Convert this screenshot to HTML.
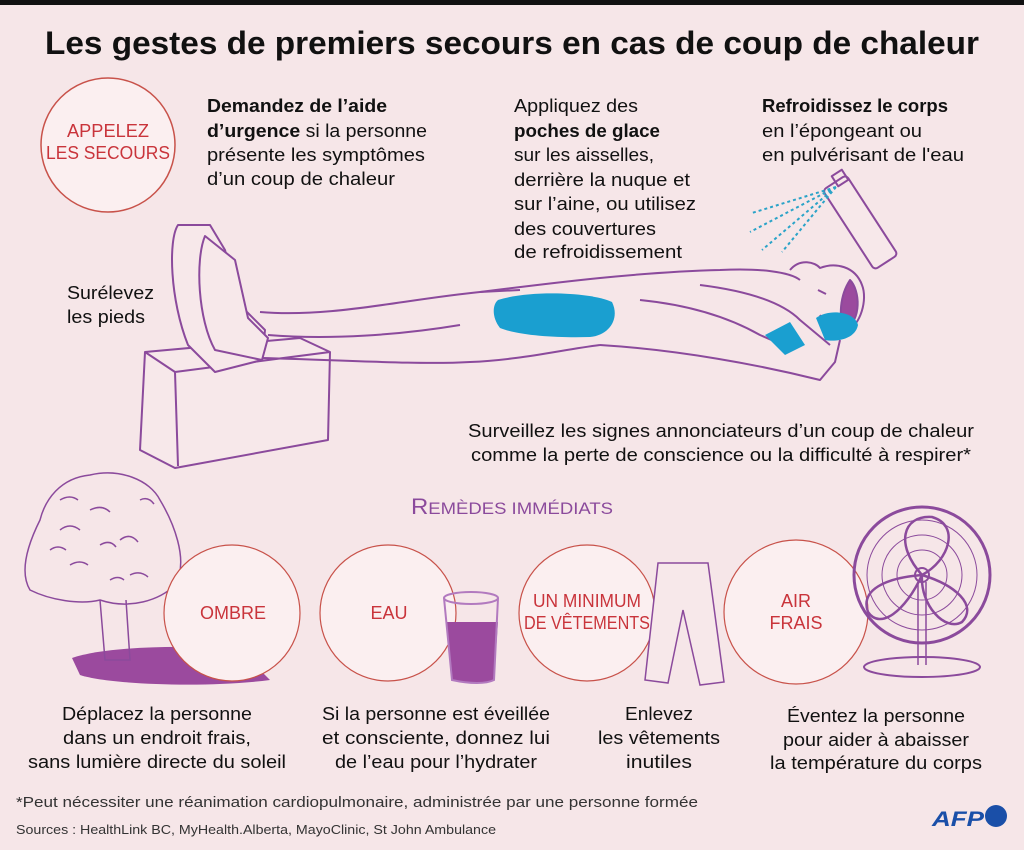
<!DOCTYPE html>
<html><head><meta charset="utf-8"><style>
html,body{margin:0;padding:0;background:#f6e6e8}
svg{display:block}
text{font-family:"Liberation Sans",sans-serif}
.d{font-size:18px;fill:#111}
.b{font-weight:bold}
.r{fill:#c9343b;font-size:18px}
</style></head><body>
<svg width="1024" height="850" viewBox="0 0 1024 850">
<rect width="1024" height="850" fill="#f6e6e8"/>
<rect width="1024" height="5" fill="#111"/>
<text x="512" y="54" text-anchor="middle" font-size="32" font-weight="bold" fill="#111" textLength="934" lengthAdjust="spacingAndGlyphs">Les gestes de premiers secours en cas de coup de chaleur</text>

<circle cx="108" cy="145" r="67" fill="#fbeff0" stroke="#c8524a" stroke-width="1.5"/>
<text x="108" y="137" text-anchor="middle" class="r" textLength="82" lengthAdjust="spacingAndGlyphs">APPELEZ</text>
<text x="108" y="159" text-anchor="middle" class="r" textLength="124" lengthAdjust="spacingAndGlyphs">LES SECOURS</text>

<g class="d">
<text x="207" y="112" class="b" textLength="180" lengthAdjust="spacingAndGlyphs">Demandez de l’aide</text>
<text x="207" y="137" textLength="220" lengthAdjust="spacingAndGlyphs"><tspan font-weight="bold">d’urgence</tspan> si la personne</text>
<text x="207" y="161" textLength="218" lengthAdjust="spacingAndGlyphs">présente les symptômes</text>
<text x="207" y="185" textLength="188" lengthAdjust="spacingAndGlyphs">d’un coup de chaleur</text>

<text x="514" y="112" textLength="124" lengthAdjust="spacingAndGlyphs">Appliquez des</text>
<text x="514" y="137" class="b" textLength="146" lengthAdjust="spacingAndGlyphs">poches de glace</text>
<text x="514" y="161" textLength="140" lengthAdjust="spacingAndGlyphs">sur les aisselles,</text>
<text x="514" y="186" textLength="176" lengthAdjust="spacingAndGlyphs">derrière la nuque et</text>
<text x="514" y="210" textLength="182" lengthAdjust="spacingAndGlyphs">sur l’aine, ou utilisez</text>
<text x="514" y="235" textLength="142" lengthAdjust="spacingAndGlyphs">des couvertures</text>
<text x="514" y="258" textLength="168" lengthAdjust="spacingAndGlyphs">de refroidissement</text>

<text x="762" y="112" class="b" textLength="186" lengthAdjust="spacingAndGlyphs">Refroidissez le corps</text>
<text x="762" y="137" textLength="160" lengthAdjust="spacingAndGlyphs">en l’épongeant ou</text>
<text x="762" y="161" textLength="202" lengthAdjust="spacingAndGlyphs">en pulvérisant de l'eau</text>

<text x="67" y="299" textLength="87" lengthAdjust="spacingAndGlyphs">Surélevez</text>
<text x="67" y="323" textLength="78" lengthAdjust="spacingAndGlyphs">les pieds</text>

<text x="721" y="437" text-anchor="middle" textLength="506" lengthAdjust="spacingAndGlyphs">Surveillez les signes annonciateurs d’un coup de chaleur</text>
<text x="721" y="461" text-anchor="middle" textLength="500" lengthAdjust="spacingAndGlyphs">comme la perte de conscience ou la difficulté à respirer*</text>
</g>

<!-- person -->
<g fill="none" stroke="#8b4a9c" stroke-width="2" stroke-linejoin="round">
<path d="M145 352 L300 338 L330 352 L328 440 L175 468 L140 450 Z" fill="#f7e8ea"/>
<path d="M145 352 L175 372 L178 466 M175 372 L330 352"/>
<path d="M178 225 C168 240 170 300 188 345 L215 372 L262 360 L265 330 L240 305 L225 250 L210 225 Z" fill="#f7e8ea"/>
<path d="M205 236 C195 260 198 320 215 350 L262 360 L268 338 L248 318 L235 260 Z" fill="#f7e8ea"/>
<path d="M260 312 C330 318 400 300 480 292 L520 290 M262 358 C340 360 420 365 470 362 C520 360 560 350 600 345"/>
<path d="M268 335 C330 340 400 335 460 325"/>
<path d="M480 292 C560 282 640 272 720 270 C760 268 790 272 800 280 M600 345 C680 350 760 365 820 380 L835 362 L840 340"/>
<path d="M700 285 C740 290 780 300 800 320 L830 345 M640 300 C690 305 730 318 760 335 L790 348"/>
<path d="M790 270 C800 258 815 262 820 268 C835 262 855 266 862 285 C868 300 860 325 848 330 C835 332 825 325 820 315"/>
<path d="M818 290 l8 4"/>
<path d="M850 280 C860 290 862 320 845 330 C838 318 840 295 850 280 Z" fill="#9b4a9e"/>
<rect x="846" y="175" width="28" height="95" rx="4" transform="rotate(-33 860 222)" fill="#f7e8ea"/>
<rect x="834" y="172" width="12" height="12" transform="rotate(-33 840 178)"/>
</g>
<path d="M498 300 C530 290 590 292 612 302 C620 318 610 335 590 337 C560 338 520 336 500 328 C492 318 492 305 498 300 Z" fill="#1a9fd0"/>
<path d="M765 335 L790 322 L805 345 L785 355 Z" fill="#1a9fd0"/>
<path d="M816 318 C830 308 855 312 858 325 C855 340 835 342 825 340 Z" fill="#1a9fd0"/>
<g stroke="#2aa3c8" stroke-width="2" stroke-dasharray="3 3">
<path d="M836 187 L752 213 M836 187 L750 232 M836 187 L762 250 M836 187 L782 252"/>
</g>

<text x="512" y="514" text-anchor="middle" fill="#8b4a9c" font-size="22" textLength="202" lengthAdjust="spacingAndGlyphs">R<tspan font-size="17">EMÈDES IMMÉDIATS</tspan></text>

<!-- tree -->
<path d="M72 658 C110 645 200 645 240 650 L270 680 C210 688 110 685 80 675 Z" fill="#9b4a9e"/>
<g fill="none" stroke="#8b4a9c" stroke-width="1.5">
<path d="M40 520 C30 540 18 570 30 590 C50 600 80 605 100 600 C130 610 160 600 175 585 C190 560 172 520 160 500 C150 480 120 468 90 475 C60 478 45 500 40 520 Z"/>
<path d="M100 600 L105 660 L130 660 L126 600"/>
<path d="M60 530 q10 -8 20 0 M90 510 q12 -6 20 2 M120 540 q10 -8 18 2 M70 565 q10 -6 18 0 M130 575 q10 -5 18 2 M50 550 q8 -6 16 0 M100 545 q10 -6 16 2 M140 500 q8 -4 14 4 M60 500 q10 -6 18 0 M110 580 q8 -5 14 0"/>
</g>
<g fill="#fbeff0" stroke="#c8524a" stroke-width="1.2">
<circle cx="232" cy="613" r="68"/>
<circle cx="388" cy="613" r="68"/>
<circle cx="587" cy="613" r="68"/>
<circle cx="796" cy="612" r="72"/>
</g>
<text x="233" y="619" text-anchor="middle" class="r">OMBRE</text>
<text x="389" y="619" text-anchor="middle" class="r">EAU</text>
<text x="587" y="607" text-anchor="middle" class="r" textLength="108" lengthAdjust="spacingAndGlyphs">UN MINIMUM</text>
<text x="587" y="629" text-anchor="middle" class="r" textLength="126" lengthAdjust="spacingAndGlyphs">DE VÊTEMENTS</text>
<text x="796" y="607" text-anchor="middle" class="r">AIR</text>
<text x="796" y="629" text-anchor="middle" class="r">FRAIS</text>

<!-- glass -->
<path d="M446 622 L452 680 C470 684 486 684 494 680 L498 622 Z" fill="#9b4a9e"/>
<path d="M444 598 L452 680 C470 684 486 684 494 680 L498 598" fill="none" stroke="#b27abf" stroke-width="2"/>
<ellipse cx="471" cy="598" rx="27" ry="6" fill="none" stroke="#b27abf" stroke-width="2"/>
<!-- pants -->
<path d="M658 563 L708 563 L724 682 L700 685 L683 610 L668 683 L645 680 Z" fill="#f7e8ea" stroke="#8b4a9c" stroke-width="1.5"/>
<!-- fan -->
<g fill="none" stroke="#8b4a9c">
<circle cx="922" cy="575" r="68" stroke-width="3"/>
<circle cx="922" cy="575" r="55" stroke-width="1"/>
<circle cx="922" cy="575" r="40" stroke-width="1"/>
<circle cx="922" cy="575" r="25" stroke-width="1"/>
<path d="M922 575 C895 545 902 515 932 517 C960 525 950 560 922 575 Z M922 575 C885 578 860 590 868 612 C880 630 905 612 922 575 Z M922 575 C955 585 978 605 962 622 C945 632 920 605 922 575 Z" stroke-width="2.5"/>
<circle cx="922" cy="575" r="7" stroke-width="2"/>
<path d="M918 582 L918 665 M926 582 L926 665" stroke-width="1.5"/>
<ellipse cx="922" cy="667" rx="58" ry="10" stroke-width="2"/>
</g>

<g class="d" text-anchor="middle">
<text x="157" y="720" textLength="190" lengthAdjust="spacingAndGlyphs">Déplacez la personne</text>
<text x="157" y="744" textLength="188" lengthAdjust="spacingAndGlyphs">dans un endroit frais,</text>
<text x="157" y="768" textLength="258" lengthAdjust="spacingAndGlyphs">sans lumière directe du soleil</text>
<text x="436" y="720" textLength="228" lengthAdjust="spacingAndGlyphs">Si la personne est éveillée</text>
<text x="436" y="744" textLength="228" lengthAdjust="spacingAndGlyphs">et consciente, donnez lui</text>
<text x="436" y="768" textLength="202" lengthAdjust="spacingAndGlyphs">de l’eau pour l’hydrater</text>
<text x="659" y="720" textLength="68" lengthAdjust="spacingAndGlyphs">Enlevez</text>
<text x="659" y="744" textLength="122" lengthAdjust="spacingAndGlyphs">les vêtements</text>
<text x="659" y="768" textLength="66" lengthAdjust="spacingAndGlyphs">inutiles</text>
<text x="876" y="722" textLength="178" lengthAdjust="spacingAndGlyphs">Éventez la personne</text>
<text x="876" y="746" textLength="186" lengthAdjust="spacingAndGlyphs">pour aider à abaisser</text>
<text x="876" y="769" textLength="212" lengthAdjust="spacingAndGlyphs">la température du corps</text>
</g>

<text x="16" y="807" font-size="15" fill="#333" textLength="682" lengthAdjust="spacingAndGlyphs">*Peut nécessiter une réanimation cardiopulmonaire, administrée par une personne formée</text>
<text x="16" y="834" font-size="13" fill="#333" textLength="480" lengthAdjust="spacingAndGlyphs">Sources : HealthLink BC, MyHealth.Alberta, MayoClinic, St John Ambulance</text>
<text x="932" y="826" font-size="21" font-weight="bold" font-style="italic" fill="#1a4fa8" textLength="52" lengthAdjust="spacingAndGlyphs">AFP</text>
<circle cx="996" cy="816" r="11" fill="#1a4fa8"/>
</svg>
</body></html>
